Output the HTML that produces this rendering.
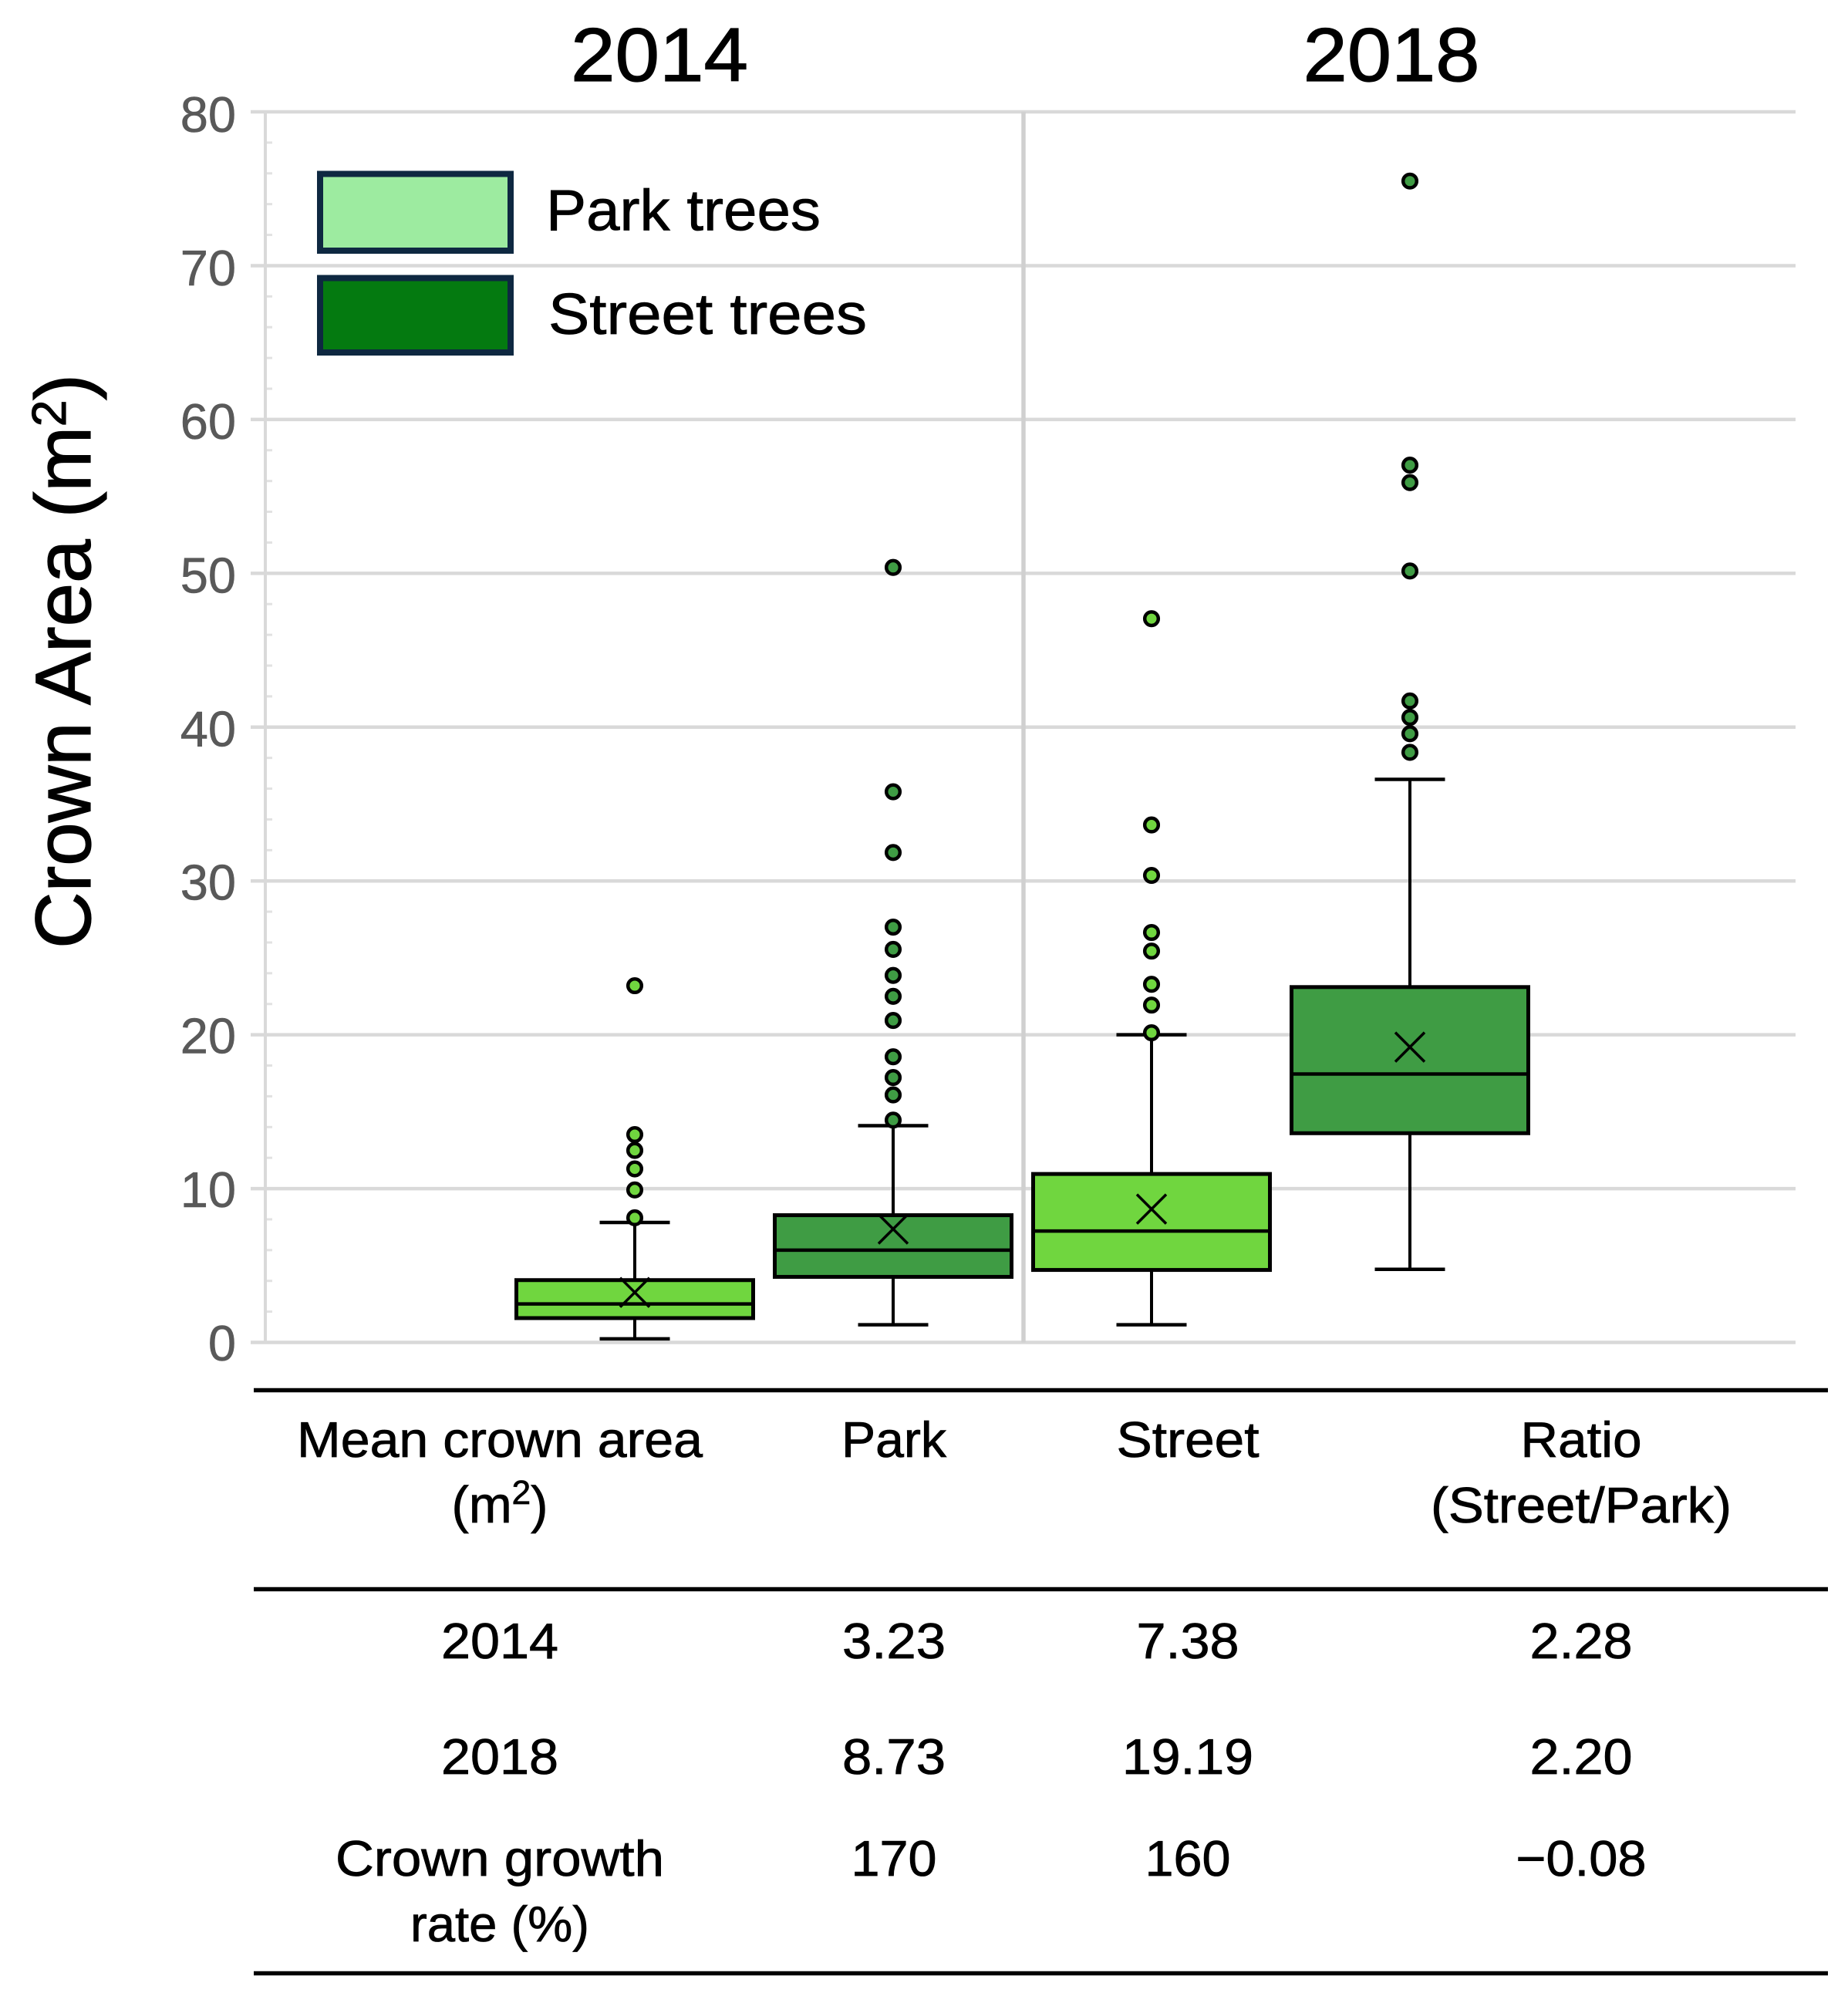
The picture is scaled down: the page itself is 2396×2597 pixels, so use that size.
<!DOCTYPE html>
<html lang="en">
<head>
<meta charset="utf-8">
<title>Crown Area of Park and Street Trees, 2014 and 2018</title>
<style>
html,body{margin:0;padding:0;background:#fff;}
svg{display:block;}
text{font-family:"Liberation Sans",sans-serif;}
.cell{font-size:65px;fill:#000;stroke:#000;stroke-width:.8px;text-anchor:middle;}
.heavy{fill:#000;stroke:#000;stroke-width:1.2px;}
</style>
</head>
<body>
<svg id="chart" xmlns="http://www.w3.org/2000/svg" width="2396" height="2597" viewBox="0 0 2396 2597">
  <rect x="0" y="0" width="2396" height="2597" fill="#ffffff"/>
  <g id="plot"></g>

  <text class="heavy" x="855" y="105" font-size="98" text-anchor="middle" textLength="230" lengthAdjust="spacingAndGlyphs">2014</text>
  <text class="heavy" x="1804" y="105" font-size="98" text-anchor="middle" textLength="229" lengthAdjust="spacingAndGlyphs">2018</text>

  <text class="heavy" transform="translate(117,1230) rotate(-90)" x="0" y="0" font-size="102" letter-spacing="-0.25">Crown Area (m<tspan font-size="62" dy="-32">2</tspan><tspan dy="32">)</tspan></text>

  <g>
    <rect x="415" y="225.5" width="247" height="99.5" fill="#9deba0" stroke="#0e2841" stroke-width="8"/>
    <text class="cell" style="text-anchor:start" x="708" y="298.5" font-size="75" textLength="356" lengthAdjust="spacingAndGlyphs"><tspan font-size="75">Park trees</tspan></text>
    <rect x="415" y="360.5" width="247" height="96.5" fill="#047a10" stroke="#0e2841" stroke-width="8"/>
    <text class="cell" style="text-anchor:start" x="711" y="433" font-size="75" textLength="413" lengthAdjust="spacingAndGlyphs"><tspan font-size="75">Street trees</tspan></text>
  </g>

  <g>
    <line x1="329" y1="1802.5" x2="2370" y2="1802.5" stroke="#000" stroke-width="5.5"/>
    <line x1="329" y1="2060.5" x2="2370" y2="2060.5" stroke="#000" stroke-width="5.5"/>
    <line x1="329" y1="2558.5" x2="2370" y2="2558.5" stroke="#000" stroke-width="5.5"/>

    <text class="cell" x="648" y="1889" textLength="526" lengthAdjust="spacingAndGlyphs">Mean crown area</text>
    <text class="cell" style="font-size:67px" x="648" y="1974">(m<tspan font-size="44" dy="-24">2</tspan><tspan dy="24">)</tspan></text>
    <text class="cell" x="1159" y="1889" textLength="136" lengthAdjust="spacingAndGlyphs">Park</text>
    <text class="cell" x="1540" y="1889" textLength="185" lengthAdjust="spacingAndGlyphs">Street</text>
    <text class="cell" x="2050" y="1889" textLength="157" lengthAdjust="spacingAndGlyphs">Ratio</text>
    <text class="cell" x="2050" y="1974" textLength="390" lengthAdjust="spacingAndGlyphs">(Street/Park)</text>

    <text class="cell" x="648" y="2150" textLength="152" lengthAdjust="spacingAndGlyphs">2014</text>
    <text class="cell" x="1159" y="2150" textLength="134" lengthAdjust="spacingAndGlyphs">3.23</text>
    <text class="cell" x="1540" y="2150" textLength="133" lengthAdjust="spacingAndGlyphs">7.38</text>
    <text class="cell" x="2050" y="2150" textLength="133" lengthAdjust="spacingAndGlyphs">2.28</text>

    <text class="cell" x="648" y="2300" textLength="152" lengthAdjust="spacingAndGlyphs">2018</text>
    <text class="cell" x="1159" y="2300" textLength="134" lengthAdjust="spacingAndGlyphs">8.73</text>
    <text class="cell" x="1540" y="2300" textLength="170" lengthAdjust="spacingAndGlyphs">19.19</text>
    <text class="cell" x="2050" y="2300" textLength="133" lengthAdjust="spacingAndGlyphs">2.20</text>

    <text class="cell" x="648" y="2432" textLength="426" lengthAdjust="spacingAndGlyphs">Crown growth</text>
    <text class="cell" x="648" y="2517" textLength="232" lengthAdjust="spacingAndGlyphs">rate (%)</text>
    <text class="cell" x="1159" y="2432" textLength="111" lengthAdjust="spacingAndGlyphs">170</text>
    <text class="cell" x="1540" y="2432" textLength="111" lengthAdjust="spacingAndGlyphs">160</text>
    <text class="cell" x="2050" y="2432" textLength="169" lengthAdjust="spacingAndGlyphs">−0.08</text>
  </g>
</svg>

<script>
// Chart data (crown area in m²)
const categories = ['park-2014', 'street-2014', 'park-2018', 'street-2018'];
const tickLabels = [0, 10, 20, 30, 40, 50, 60, 70, 80];
const minorTicks = [2, 4, 6, 8, 12, 14, 16, 18, 22, 24, 26, 28, 32, 34, 36, 38, 42, 44, 46, 48, 52, 54, 56, 58, 62, 64, 66, 68, 72, 74, 76, 78];
const whiskerLow = [0.23, 1.15, 1.15, 4.75];
const q1Values = [1.58, 4.26, 4.71, 13.6];
const medianValues = [2.5, 6.0, 7.24, 17.45];
const meanValues = [3.25, 7.37, 8.67, 19.2];
const q3Values = [4.05, 8.27, 10.95, 23.1];
const whiskerHigh = [7.8, 14.09, 20.0, 36.6];
const outliersPark2014 = [8.1, 9.91, 11.28, 12.48, 13.51, 23.19];
const outliersStreet2014 = [14.45, 16.09, 17.22, 18.57, 20.93, 22.5, 23.86, 25.55, 27.0, 31.85, 35.8, 50.38];
const outliersPark2018 = [20.13, 21.93, 23.28, 25.44, 26.65, 30.36, 33.64, 47.05];
const outliersStreet2018 = [38.36, 39.57, 40.63, 41.7, 50.15, 55.9, 57.03, 75.5];
const outlierSets = [outliersPark2014, outliersStreet2014, outliersPark2018, outliersStreet2018];

// Axis functions
const Y_ZERO = 1740.5, Y_TOP = 145, Y_MAX = 80;
const X_FIRST = 823, X_STEP = 335;
const BOX_WIDTH = 307, CAP_WIDTH = 91;
function yScale(v) { return Y_ZERO - v * (Y_ZERO - Y_TOP) / Y_MAX; }
function xScale(i) { return X_FIRST + X_STEP * i; }

const fills = ['#70d63f', '#3f9c44', '#70d63f', '#3f9c44'];
const NS = 'http://www.w3.org/2000/svg';
const plot = document.getElementById('plot');

function shape(tag, attrs) {
  const el = document.createElementNS(NS, tag);
  for (const k in attrs) el.setAttribute(k, attrs[k]);
  plot.appendChild(el);
  return el;
}

// Grid lines and tick labels
tickLabels.forEach(function (t) {
  const grid = shape('line', { x1: 325, x2: 2328, y1: yScale(t), y2: yScale(t), stroke: '#d9d9d9', 'stroke-width': 4.5 });
  
  
  const label = shape('text', { x: 306, y: yScale(t) + 23.5 + t * 0.03, 'font-size': 65, fill: '#595959', stroke: '#595959', 'stroke-width': 0.6, 'text-anchor': 'end' });
  label.textContent = String(t);
  
  
});

minorTicks.forEach(function (t) {
  const tick = shape('line', { x1: 344, x2: 353, y1: yScale(t), y2: yScale(t), stroke: '#e2e2e2', 'stroke-width': 3 });
  
  
});

const axisLine = shape('line', { x1: 344, x2: 344, y1: yScale(Y_MAX), y2: yScale(0), stroke: '#d9d9d9', 'stroke-width': 4 });



const divider = shape('line', { x1: 1327, x2: 1327, y1: yScale(Y_MAX), y2: yScale(0), stroke: '#d0d0d0', 'stroke-width': 5.5 });



// Box plots
categories.forEach(function (cat, i) {
  const cx = xScale(i);

  const whisker = shape('line', { x1: cx, x2: cx, y1: yScale(whiskerHigh[i]), y2: yScale(whiskerLow[i]), stroke: '#000', 'stroke-width': 4 });
  
  

  const capHigh = shape('line', { x1: cx - CAP_WIDTH / 2, x2: cx + CAP_WIDTH / 2, y1: yScale(whiskerHigh[i]), y2: yScale(whiskerHigh[i]), stroke: '#000', 'stroke-width': 4.5 });
  
  

  const capLow = shape('line', { x1: cx - CAP_WIDTH / 2, x2: cx + CAP_WIDTH / 2, y1: yScale(whiskerLow[i]), y2: yScale(whiskerLow[i]), stroke: '#000', 'stroke-width': 4.5 });
  
  

  const box = shape('rect', { x: cx - BOX_WIDTH / 2, y: yScale(q3Values[i]), width: BOX_WIDTH, height: yScale(q1Values[i]) - yScale(q3Values[i]), fill: fills[i], stroke: '#000', 'stroke-width': 5 });
  
  

  const median = shape('line', { x1: cx - BOX_WIDTH / 2, x2: cx + BOX_WIDTH / 2, y1: yScale(medianValues[i]), y2: yScale(medianValues[i]), stroke: '#000', 'stroke-width': 4.5 });
  
  

  const my = yScale(meanValues[i]);
  const mean = shape('path', { d: 'M' + (cx - 19) + ' ' + (my - 19) + 'L' + (cx + 19) + ' ' + (my + 19) + 'M' + (cx + 19) + ' ' + (my - 19) + 'L' + (cx - 19) + ' ' + (my + 19), fill: 'none', stroke: '#000', 'stroke-width': 3.5 });
  
  

  outlierSets[i].forEach(function (v, j) {
    const dot = shape('circle', { cx: cx, cy: yScale(v), r: 8.8, fill: fills[i], stroke: '#000', 'stroke-width': 4.5 });
    
    
  });
});
</script>
</body>
</html>
